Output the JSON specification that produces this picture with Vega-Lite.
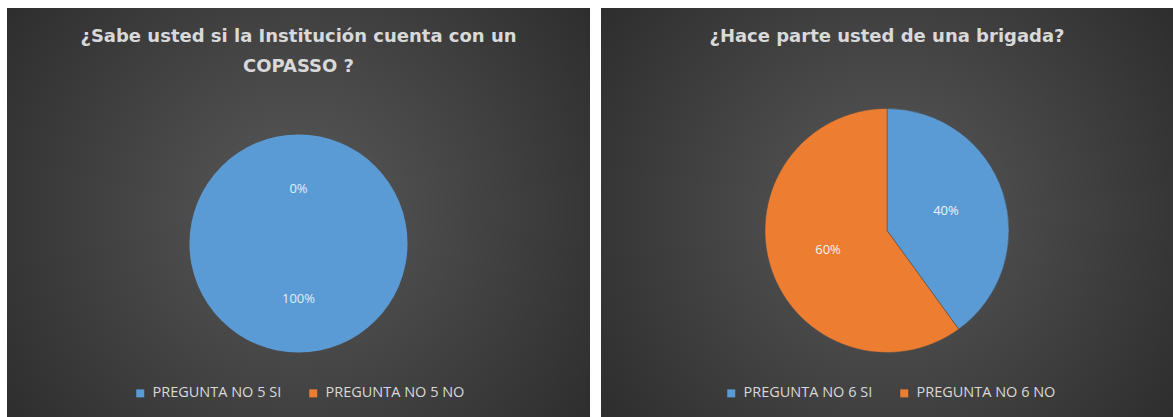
{
  "$schema": "https://vega.github.io/schema/vega-lite/v6.json",
  "background": "#ffffff",
  "padding": {"left": 7, "top": 8, "right": 0, "bottom": 0},
  "spacing": 11,
  "config": {
    "view": {"stroke": null},
    "font": "Open Sans",
    "legend": {
      "orient": "none",
      "direction": "horizontal",
      "title": null,
      "symbolType": "square",
      "symbolSize": 64,
      "symbolStrokeWidth": 0,
      "labelColor": "#d9d9d9",
      "labelFont": "Open Sans",
      "labelFontSize": 14.5,
      "labelOffset": 5,
      "columnPadding": 24
    },
    "title": {
      "anchor": "middle",
      "color": "#d9d9d9",
      "font": "DejaVu Sans",
      "fontSize": 18,
      "fontWeight": "bold",
      "lineHeight": 30
    }
  },
  "hconcat": [
    {
      "width": 583,
      "height": 409,
      "title": {"text": ["¿Sabe usted si la Institución cuenta con un", "COPASSO ?"], "offset": -68},
      "data": {"values": [
        {"respuesta": "PREGUNTA NO 5 SI", "porcentaje": 100, "etiqueta": "100%", "orden": 1},
        {"respuesta": "PREGUNTA NO 5 NO", "porcentaje": 0, "etiqueta": "0%", "orden": 2}
      ]},
      "layer": [
        {
          "data": {"values": [{}]},
          "mark": {"type": "rect", "color": {"gradient": "radial", "x1": 0.5, "y1": 0.5, "r1": 0, "x2": 0.5, "y2": 0.5, "r2": 0.72, "stops": [{"offset": 0, "color": "#595959"}, {"offset": 1, "color": "#262626"}]}},
          "encoding": {}
        },
        {
          "mark": {"type": "arc", "outerRadius": 109, "yOffset": 31},
          "encoding": {
            "theta": {"field": "porcentaje", "type": "quantitative", "stack": true},
            "order": {"field": "orden", "type": "quantitative"},
            "color": {"field": "respuesta", "type": "nominal", "scale": {"domain": ["PREGUNTA NO 5 SI", "PREGUNTA NO 5 NO"], "range": ["#5b9bd5", "#ed7d31"]}, "legend": {"legendX": 126, "legendY": 378}}
          }
        },
        {
          "mark": {"type": "text", "radius": 55, "yOffset": 31, "color": "#e3ebf5", "fontSize": 13, "font": "Open Sans"},
          "encoding": {
            "theta": {"field": "porcentaje", "type": "quantitative", "stack": true},
            "order": {"field": "orden", "type": "quantitative"},
            "text": {"field": "etiqueta", "type": "nominal"}
          }
        }
      ]
    },
    {
      "width": 572,
      "height": 409,
      "title": {"text": "¿Hace parte usted  de una brigada?", "offset": -38},
      "data": {"values": [
        {"respuesta": "PREGUNTA NO 6 SI", "porcentaje": 40, "etiqueta": "40%", "orden": 1},
        {"respuesta": "PREGUNTA NO 6 NO", "porcentaje": 60, "etiqueta": "60%", "orden": 2}
      ]},
      "layer": [
        {
          "data": {"values": [{}]},
          "mark": {"type": "rect", "color": {"gradient": "radial", "x1": 0.5, "y1": 0.5, "r1": 0, "x2": 0.5, "y2": 0.5, "r2": 0.72, "stops": [{"offset": 0, "color": "#595959"}, {"offset": 1, "color": "#262626"}]}},
          "encoding": {}
        },
        {
          "mark": {"type": "arc", "outerRadius": 122, "yOffset": 18, "stroke": "#4a4a4a", "strokeWidth": 0.5},
          "encoding": {
            "theta": {"field": "porcentaje", "type": "quantitative", "stack": true},
            "order": {"field": "orden", "type": "quantitative"},
            "color": {"field": "respuesta", "type": "nominal", "scale": {"domain": ["PREGUNTA NO 6 SI", "PREGUNTA NO 6 NO"], "range": ["#5b9bd5", "#ed7d31"]}, "legend": {"legendX": 123, "legendY": 378}}
          }
        },
        {
          "mark": {"type": "text", "radius": 62, "yOffset": 18, "color": "#eef2f8", "fontSize": 13, "font": "Open Sans"},
          "encoding": {
            "theta": {"field": "porcentaje", "type": "quantitative", "stack": true},
            "order": {"field": "orden", "type": "quantitative"},
            "text": {"field": "etiqueta", "type": "nominal"}
          }
        }
      ]
    }
  ],
  "resolve": {"scale": {"color": "independent"}}
}
